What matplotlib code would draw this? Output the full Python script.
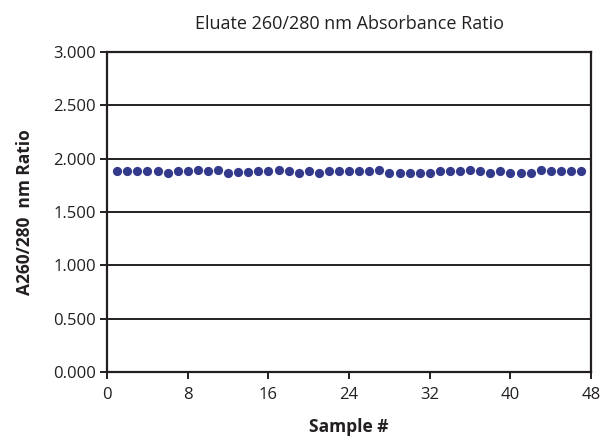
import matplotlib
matplotlib.use("Agg")
import matplotlib.pyplot as plt

samples = list(range(1, 48))
ratios = [1.88, 1.88, 1.88, 1.88, 1.88, 1.865, 1.88, 1.88, 1.895, 1.88,
          1.895, 1.865, 1.875, 1.875, 1.88, 1.88, 1.895, 1.88, 1.865, 1.88,
          1.865, 1.88, 1.88, 1.88, 1.88, 1.88, 1.895, 1.865, 1.87, 1.87,
          1.87, 1.87, 1.88, 1.88, 1.88, 1.895, 1.88, 1.865, 1.88, 1.87,
          1.87, 1.87, 1.895, 1.88, 1.88, 1.88, 1.88]
xticks = [0, 8, 16, 24, 32, 40, 48]
yticks = [0.0, 0.5, 1.0, 1.5, 2.0, 2.5, 3.0]

plt.rcParams['font.family'] = ['Open Sans', 'DejaVu Sans']

fig = plt.figure(figsize=(6.05, 4.38), dpi=100)
ax = fig.add_axes([0.177, 0.151, 0.800, 0.730])

for y in yticks[1:-1]:
    ax.axhline(y, color='#231f20', lw=1.4, zorder=1)

ax.scatter(samples, ratios, s=44, color='#333a8c', zorder=3, linewidths=0)

ax.set_xlim(0, 48)
ax.set_ylim(0, 3)
ax.set_xticks(xticks)
ax.set_yticks(yticks)
ax.set_yticklabels([f"{v:.3f}" for v in yticks])
for s in ax.spines.values():
    s.set_linewidth(1.6)
    s.set_color('#231f20')
ax.tick_params(axis='both', direction='out', length=5, width=1.4, colors='#231f20',
               labelsize=12, labelcolor='#231f20')
ax.tick_params(axis='x', pad=6)
ax.tick_params(axis='y', pad=3)

ax.set_title("Eluate 260/280 nm Absorbance Ratio", fontsize=13, color='#231f20', pad=17)
ax.set_xlabel("Sample #", fontsize=12.5, fontweight='bold', color='#231f20', labelpad=11)
ax.set_ylabel("A260/280  nm Ratio", fontsize=12.5, fontweight='bold', color='#231f20', labelpad=14)

fig.savefig("out.png", dpi=100)
